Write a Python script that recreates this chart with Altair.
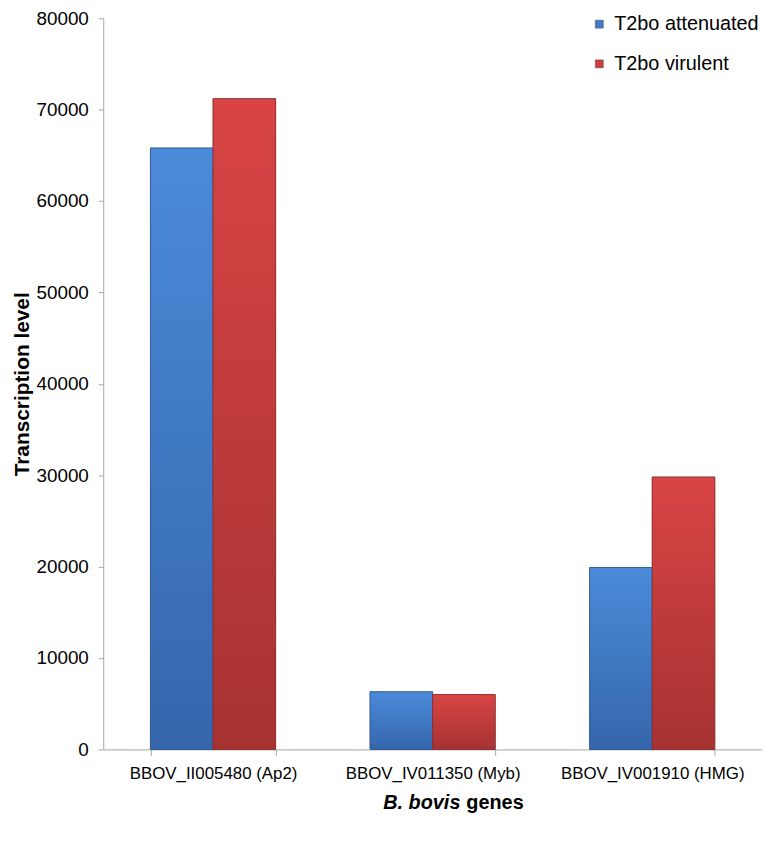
import altair as alt
import pandas as pd

genes = ["BBOV_II005480 (Ap2)", "BBOV_IV011350 (Myb)", "BBOV_IV001910 (HMG)"]
series = ["T2bo attenuated", "T2bo virulent"]
attenuated = [65800, 6300, 19900]
virulent = [71200, 6000, 29800]
y_ticks = [0, 10000, 20000, 30000, 40000, 50000, 60000, 70000, 80000]

rows = []
for g, a, v in zip(genes, attenuated, virulent):
    rows.append({"gene": g, "series": series[0], "value": a})
    rows.append({"gene": g, "series": series[1], "value": v})
df = pd.DataFrame(rows)

FONT = "Liberation Sans"

x_enc = alt.X("gene:N", sort=genes,
              scale=alt.Scale(paddingInner=0.43, paddingOuter=0.215),
              axis=alt.Axis(title=None, labelAngle=0, labelFontSize=17,
                            labelFont=FONT, labelColor="#000", labelLimit=0,
                            domainColor="#a6a6a6", tickColor="#a6a6a6",
                            tickBand="extent", tickSize=6, labelPadding=10))
y_enc = alt.Y("value:Q",
              scale=alt.Scale(domain=[0, 80000], nice=False),
              axis=alt.Axis(title="Transcription level", values=y_ticks,
                            format="d",
                            grid=False, labelFontSize=19, labelFont=FONT,
                            labelColor="#000", titleFont=FONT,
                            titleFontSize=21, titleFontWeight="bold",
                            titleColor="#000", titlePadding=3,
                            domainColor="#a6a6a6", tickColor="#a6a6a6",
                            tickSize=5, labelPadding=10))
xo_enc = alt.XOffset("series:N", sort=series, scale=alt.Scale(domain=series))

base = alt.Chart(df).mark_bar(stroke="#555", strokeWidth=0.5).encode(
    x=x_enc, y=y_enc, xOffset=xo_enc,
    color=alt.Color("series:N", sort=series,
                    scale=alt.Scale(domain=series, range=["#3f7ccc", "#cf3d3d"]),
                    legend=alt.Legend(title=None, orient="none", legendX=490,
                                      legendY=-4, symbolType="square",
                                      symbolSize=64, symbolStrokeWidth=0.5,
                                      symbolStrokeColor="#444",
                                      labelFontSize=20, labelFont=FONT,
                                      labelColor="#000", rowPadding=20,
                                      labelOffset=5)),
)

blue_grad = alt.LinearGradient(gradient="linear", x1=0, x2=0, y1=0, y2=1,
                               stops=[alt.GradientStop(offset=0, color="#4a8ad9"),
                                      alt.GradientStop(offset=1, color="#3566ac")])
red_grad = alt.LinearGradient(gradient="linear", x1=0, x2=0, y1=0, y2=1,
                              stops=[alt.GradientStop(offset=0, color="#d94444"),
                                     alt.GradientStop(offset=1, color="#a63232")])

blue = alt.Chart(df).transform_filter(alt.datum.series == series[0]).mark_bar(
    fill=blue_grad, stroke="#2c5690", strokeWidth=0.8).encode(
    x=alt.X("gene:N", sort=genes), y="value:Q", xOffset=xo_enc)
red = alt.Chart(df).transform_filter(alt.datum.series == series[1]).mark_bar(
    fill=red_grad, stroke="#8c2a2a", strokeWidth=0.8).encode(
    x=alt.X("gene:N", sort=genes), y="value:Q", xOffset=xo_enc)

t1 = alt.Chart(pd.DataFrame({"t": ["B. bovis"]})).mark_text(
    font=FONT, fontSize=20, fontWeight="bold", fontStyle="italic",
    align="right", baseline="middle", color="#000").encode(
    text="t:N", x=alt.value(360), y=alt.value(791))
t2 = alt.Chart(pd.DataFrame({"t": ["genes"]})).mark_text(
    font=FONT, fontSize=20, fontWeight="bold",
    align="left", baseline="middle", color="#000").encode(
    text="t:N", x=alt.value(366), y=alt.value(791))

chart = alt.layer(base, blue, red, t1, t2).properties(
    width=664, height=737,
    autosize=alt.AutoSizeParams(type="none"),
    padding={"left": 96, "top": 7, "right": 2, "bottom": 88},
).configure_view(stroke=None)

chart.save("out.html", embed_options={"renderer": "svg", "actions": False})
